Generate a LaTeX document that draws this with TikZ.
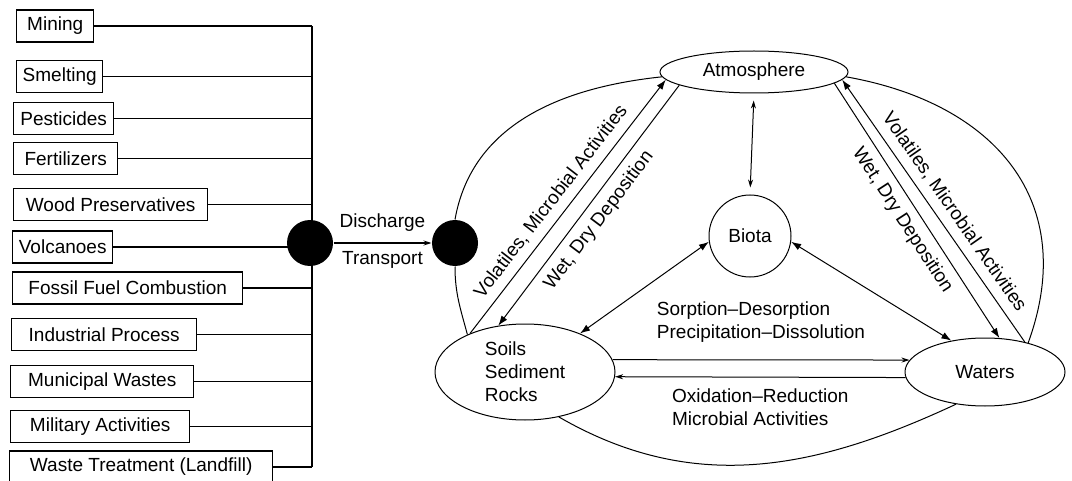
\documentclass[tikz,border=0pt]{standalone}
\usepackage{fontspec}
\setmainfont{Liberation Sans}
\usetikzlibrary{shapes.geometric}
\usetikzlibrary{arrows.meta}
\usetikzlibrary{positioning}

\begin{document}
\begin{tikzpicture}[x=0.5pt,y=-0.5pt,line width=0.5pt,font=\fontsize{9.5}{11.5}\selectfont,
	src node/.style={draw, line width=0.7pt, anchor=west, minimum height=16pt, inner sep=0pt},
	dot node/.style={circle, fill=black, minimum size=23pt, inner sep=0pt},
	env node/.style={ellipse, draw, inner sep=0pt},
	big arrow/.style={-{Latex[length=5pt,width=3.5pt]}},
	both arrow/.style={{Latex[length=5pt,width=3.5pt]}-{Latex[length=5pt,width=3.5pt]}},
	small arrow/.style={-{Stealth[length=4pt,width=2.5pt]}},
	both small/.style={{Stealth[length=4pt,width=2.5pt]}-{Stealth[length=4pt,width=2.5pt]}}]

	\useasboundingbox (0,0) rectangle (1072,481);

	% sources
	\node[src node, minimum width=38.5pt] (mining) at (16,26) {Mining};
	\node[src node, minimum width=43pt] (smelting) at (16,76.5) {Smelting};
	\node[src node, minimum width=50pt] (pesticides) at (13,118.5) {Pesticides};
	\node[src node, minimum width=52pt] (fertilizers) at (13,158.5) {Fertilizers};
	\node[src node, minimum width=97pt] (wood) at (13,204.5) {Wood Preservatives};
	\node[src node, minimum width=50pt] (volcanoes) at (12,247) {Volcanoes};
	\node[src node, minimum width=115pt] (fossil) at (12,288) {Fossil Fuel Combustion};
	\node[src node, minimum width=92.5pt] (industrial) at (11,334.5) {Industrial Process};
	\node[src node, minimum width=91.5pt] (municipal) at (10,381.5) {Municipal Wastes};
	\node[src node, minimum width=89.5pt] (military) at (10,426.5) {Military Activities};
	\node[src node, minimum width=131.5pt] (landfill) at (9,467) {Waste Treatment (Landfill)};

	\coordinate (bus) at (312,0);
	\draw[line width=0.7pt] (bus |- mining) -- (bus |- landfill);
	\foreach \src in {mining,smelting,pesticides,fertilizers,wood,volcanoes,fossil,industrial,municipal,military,landfill}
		\draw[line width=0.7pt] (\src.east) -- (\src.east -| bus);

	\node[dot node] (collect) at (310,243) {};
	\node[dot node] (release) at (455,243) {};

	% compartments
	\node[env node, minimum width=94pt, minimum height=21pt] (atm) at (754,72) {Atmosphere};
	\node[circle, draw, minimum size=41pt, inner sep=0pt] (biota) at (750,236) {Biota};
	\node[env node, minimum width=90pt, minimum height=48pt, align=left] (soils) at (525,372) {Soils\\Sediment\\Rocks};
	\node[env node, minimum width=80pt, minimum height=34pt] (waters) at (985,372) {Waters};

	% outer cycle
	\draw (soils.147) to[out=105,in=-90] (release.south);
	\draw (release.north) to[out=80,in=186] (atm.183);
	\draw (atm.357) to[out=-10,in=70,looseness=1.2] (waters.34);
	\draw (soils.-53) to[out=-30,in=205] (waters.-132);

	\path (collect) edge[small arrow] node[above=2pt] {Discharge} node[below=0.5pt] {Transport} (release);

	\path[every node/.style={sloped, inner sep=2pt}]
		(soils.145) edge[big arrow] node[pos=.48, above=2pt] {Volatiles, Microbial Activities} (atm.185)
		(atm.190) edge[big arrow] node[pos=.52, below=2pt] {Wet, Dry Deposition} (soils.120)
		(atm.352) edge[big arrow] node[pos=.5, below=2pt] {Wet, Dry Deposition} (waters.67)
		(waters.37) edge[big arrow] node[pos=.46, above=2pt] {Volatiles, Microbial Activities} (atm.355);

	\draw[both arrow] (biota.188) -- (soils.35);
	\draw[both arrow] (biota.352) -- (waters.137);
	\draw[both small, shorten >=3.5pt, shorten <=3.5pt] (atm.south) -- (biota.north);

	\path (soils.8) edge[small arrow] node[above=5pt, align=left] {Sorption--Desorption\\Precipitation--Dissolution} (waters.171)
		(waters.184) edge[small arrow] node[below=2pt, align=left] {Oxidation--Reduction\\Microbial Activities} (soils.-3);

\end{tikzpicture}
\end{document}
